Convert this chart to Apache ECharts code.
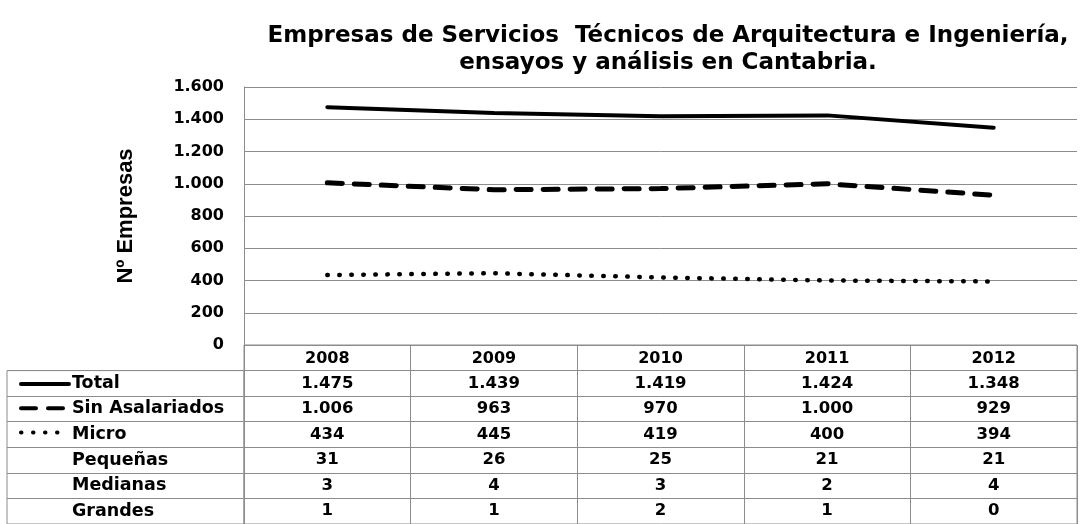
<!DOCTYPE html>
<html>
<head>
<meta charset="utf-8">
<script src="https://cdn.jsdelivr.net/npm/echarts@6/dist/echarts.min.js"></script>
<style>
  html, body { margin: 0; padding: 0; background: #fff; }
  #chart { width: 1085px; height: 524px; }
</style>
</head>
<body>
<div id="chart"></div>
<script>
// datos
const years = ['2008', '2009', '2010', '2011', '2012'];
const total = [1475, 1439, 1419, 1424, 1348];
const sinAsalariados = [1006, 963, 970, 1000, 929];
const micro = [434, 445, 419, 400, 394];
const pequenas = [31, 26, 25, 21, 21];
const medianas = [3, 4, 3, 2, 4];
const grandes = [1, 1, 2, 1, 0];
const rowNames = ['Total', 'Sin Asalariados', 'Micro', 'Pequeñas', 'Medianas', 'Grandes'];
const rowValues = [total, sinAsalariados, micro, pequenas, medianas, grandes];
const yTicks = [0, 200, 400, 600, 800, 1000, 1200, 1400, 1600];

const FONT = '"DejaVu Sans", sans-serif';
const NAME_FONT = '"Liberation Sans", Arial, sans-serif';
const GRID_COLOR = '#8c8c8c';

// separador de miles con punto
const fmt = v => String(v).replace(/\B(?=(\d{3})+(?!\d))/g, '.');

// celdas de la tabla
const tableData = [];
rowValues.forEach((vals, r) => {
  vals.forEach((v, c) => {
    tableData.push([years[c], rowNames[r], v]);
  });
});

const chart = echarts.init(document.getElementById('chart'));

chart.setOption({
  animation: false,
  backgroundColor: '#fff',
  title: {
    text: 'Empresas de Servicios  Técnicos de Arquitectura e Ingeniería,\nensayos y análisis en Cantabria.',
    left: 663,
    top: 18,
    textAlign: 'center',
    textStyle: {
      fontFamily: FONT,
      fontWeight: 'bold',
      fontSize: 23,
      lineHeight: 27,
      color: '#000'
    }
  },
  legend: {
    orient: 'vertical',
    left: 14,
    top: 372,
    itemWidth: 48,
    itemHeight: 14,
    itemGap: 11.6,
    data: ['Total', 'Sin Asalariados', 'Micro'],
    formatter: () => '',
    textStyle: { fontSize: 8 },
    itemStyle: { opacity: 0 },
    lineStyle: { width: 4, cap: 'round' },
    selectedMode: false
  },
  grid: [
    { left: 244, right: 8, top: 87, bottom: 179 },
    // columna de etiquetas de la tabla
    { left: 7, width: 237, top: 370.6, bottom: 0, show: true, borderColor: GRID_COLOR, borderWidth: 1 },
    // valores de la tabla
    { left: 244, right: 8, top: 345, bottom: 0, show: true, borderColor: GRID_COLOR, borderWidth: 1 }
  ],
  xAxis: [
    {
      gridIndex: 0,
      type: 'category',
      data: years,
      boundaryGap: true,
      axisLine: { show: false },
      axisTick: { show: false },
      axisLabel: {
        margin: 6,
        fontFamily: FONT,
        fontWeight: 'bold',
        fontSize: 16,
        color: '#000'
      }
    },
    {
      gridIndex: 1,
      type: 'value',
      min: 0,
      max: 1,
      show: false
    },
    {
      gridIndex: 2,
      type: 'category',
      data: years,
      boundaryGap: true,
      axisLine: { show: false },
      axisTick: { show: false },
      axisLabel: { show: false },
      splitLine: { show: true, lineStyle: { color: GRID_COLOR, width: 1 } }
    }
  ],
  yAxis: [
    {
      gridIndex: 0,
      type: 'value',
      min: yTicks[0],
      max: yTicks[yTicks.length - 1],
      interval: 200,
      name: 'Nº Empresas',
      nameLocation: 'middle',
      nameGap: 107,
      nameTextStyle: {
        fontFamily: NAME_FONT,
        fontWeight: 'bold',
        fontSize: 22,
        color: '#000'
      },
      axisLine: { show: true, lineStyle: { color: GRID_COLOR, width: 1 } },
      axisTick: { show: false },
      splitLine: { show: true, lineStyle: { color: GRID_COLOR, width: 1 } },
      axisLabel: {
        margin: 20,
        formatter: v => fmt(v),
        fontFamily: FONT,
        fontWeight: 'bold',
        fontSize: 16,
        color: '#000'
      }
    },
    {
      gridIndex: 1,
      type: 'category',
      data: rowNames,
      inverse: true,
      axisLine: { show: false },
      axisTick: { show: false },
      splitLine: { show: true, lineStyle: { color: GRID_COLOR, width: 1 } },
      axisLabel: {
        inside: true,
        margin: 65,
        align: 'left',
        fontFamily: FONT,
        fontWeight: 'bold',
        fontSize: 17.5,
        color: '#000'
      }
    },
    {
      gridIndex: 2,
      type: 'category',
      data: [''].concat(rowNames),
      inverse: true,
      axisLine: { show: false },
      axisTick: { show: false },
      axisLabel: { show: false },
      splitLine: { show: true, lineStyle: { color: GRID_COLOR, width: 1 } }
    }
  ],
  series: [
    {
      name: 'Total',
      type: 'line',
      xAxisIndex: 0,
      yAxisIndex: 0,
      data: total,
      symbol: 'none',
      lineStyle: { color: '#000', width: 4, cap: 'round' },
      itemStyle: { color: '#000' }
    },
    {
      name: 'Sin Asalariados',
      type: 'line',
      xAxisIndex: 0,
      yAxisIndex: 0,
      data: sinAsalariados,
      symbol: 'none',
      lineStyle: { color: '#000', width: 5, type: [15, 12], cap: 'round' },
      itemStyle: { color: '#000' }
    },
    {
      name: 'Micro',
      type: 'line',
      xAxisIndex: 0,
      yAxisIndex: 0,
      data: micro,
      symbol: 'none',
      lineStyle: { color: '#000', width: 4.5, type: [0.5, 11.5], cap: 'round' },
      itemStyle: { color: '#000' }
    },
    {
      name: 'tabla',
      type: 'scatter',
      xAxisIndex: 2,
      yAxisIndex: 2,
      data: tableData,
      symbol: 'rect',
      symbolSize: 1,
      itemStyle: { color: 'rgba(0,0,0,0)' },
      silent: true,
      label: {
        show: true,
        position: 'inside',
        formatter: p => fmt(p.value[2]),
        fontFamily: FONT,
        fontWeight: 'bold',
        fontSize: 16.5,
        color: '#000',
        opacity: 1,
        textBorderWidth: 0
      }
    }
  ]
});
</script>
</body>
</html>
